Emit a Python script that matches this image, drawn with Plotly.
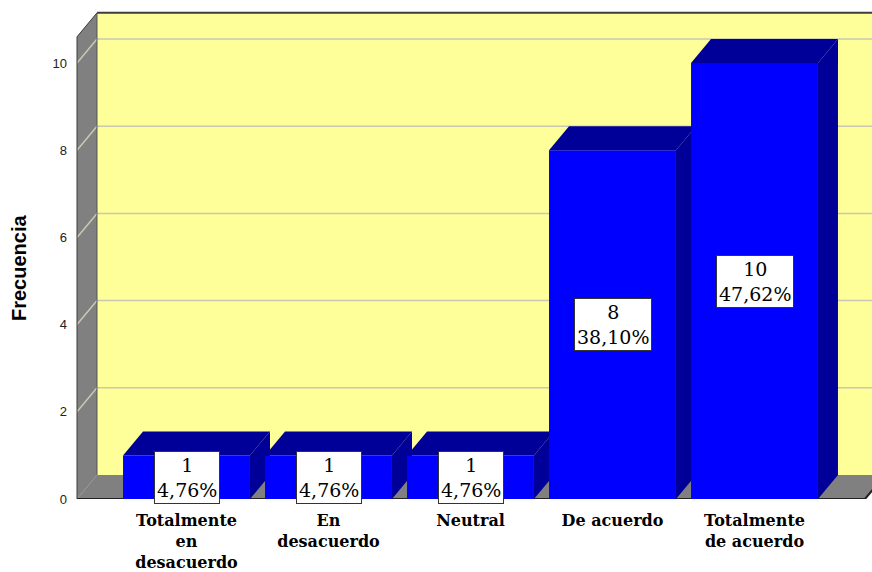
import plotly.graph_objects as go

# ---- data ----
categories = ["Totalmente<br>en<br>desacuerdo", "En<br>desacuerdo", "Neutral",
              "De acuerdo", "Totalmente<br>de acuerdo"]
frecuencia = [1, 1, 1, 8, 10]
porcentaje = [4.76, 4.76, 4.76, 38.10, 47.62]
y_ticks = [0, 2, 4, 6, 8, 10]

# ---- geometry (axis units) ----
n = len(categories)
xs = list(range(n))
W = 0.894          # bar width
DX, DY = 0.1408, 0.55   # depth offset for pseudo-3D
X0 = (77 - 186.5) / 142.0   # left wall front edge
XR = 4.778                  # floor right front edge
WALL_TOP = 10.6
XMIN = (74 - 186.5) / 142.0
XMAX = (872 - 186.5) / 142.0
YMAX = 499 / 43.6

FRONT = "#0000FF"
DARK = "#000099"
WALL = "#808080"
BACK = "#FFFF99"

fig = go.Figure()

def poly(px, py, color):
    fig.add_trace(go.Scatter(x=px + [px[0]], y=py + [py[0]], mode="lines",
                             fill="toself", fillcolor=color,
                             line=dict(width=0, color=color),
                             hoverinfo="skip", showlegend=False))

def line(px, py, color, width):
    fig.add_trace(go.Scatter(x=px, y=py, mode="lines",
                             line=dict(width=width, color=color),
                             hoverinfo="skip", showlegend=False))

# back wall
poly([X0 + DX, XMAX + 1, XMAX + 1, X0 + DX], [DY, DY, WALL_TOP + DY, WALL_TOP + DY], BACK)
# left wall
poly([X0, X0, X0 + DX, X0 + DX], [0, WALL_TOP, WALL_TOP + DY, DY], WALL)
# floor
poly([X0, XR, XR + DX, X0 + DX], [0, 0, DY, DY], WALL)

# gridlines (on side + back wall)
for t in y_ticks[1:]:
    line([X0, X0 + DX, XMAX + 1], [t, t + DY, t + DY], "#C8C8B4", 1.5)

# wall edges
line([X0 + DX, XMAX + 1], [WALL_TOP + DY, WALL_TOP + DY], "#3C3C3C", 2)
line([X0, X0, X0 + DX], [0, WALL_TOP, WALL_TOP + DY], "#3C3C3C", 1)
line([X0 + DX, X0 + DX], [DY, WALL_TOP + DY], "#555555", 1)
line([X0, XR, XR + DX], [0, 0, DY], "#222222", 2)

# bars
for x, v in zip(xs, frecuencia):
    l, r = x - W / 2, x + W / 2
    poly([l, r, r, l], [0, 0, v, v], FRONT)
    poly([l, r, r + DX, l + DX], [v, v, v + DY, v + DY], DARK)
    poly([r, r + DX, r + DX, r], [0, DY, v + DY, v], DARK)

# labels
for x, v, p in zip(xs, frecuencia, porcentaje):
    txt = f"{v}<br>{p:.2f}%".replace(".", ",")
    fig.add_annotation(x=x, y=v / 2, text=txt, showarrow=False,
                       font=dict(family="DejaVu Serif", size=19, color="black"),
                       bgcolor="white", bordercolor="#333333", borderwidth=1,
                       borderpad=2)

# y axis title
fig.add_annotation(xref="paper", yref="paper", x=(19 - 74) / 798.0, y=(499 - 268) / 499.0,
                   xanchor="center", yanchor="middle",
                   text="<b>Frecuencia</b>", textangle=-90, showarrow=False,
                   font=dict(family="Liberation Sans", size=20, color="black"))

fig.update_layout(
    width=872, height=572,
    margin=dict(l=74, r=0, t=0, b=73),
    paper_bgcolor="white", plot_bgcolor="white",
    showlegend=False,
    xaxis=dict(range=[XMIN, XMAX], tickmode="array", tickvals=xs,
               ticktext=["<b>" + c + "</b>" for c in categories],
               showgrid=False, zeroline=False, showline=False, ticks="",
               ticklabelstandoff=10,
               tickfont=dict(family="DejaVu Serif", size=16, color="black"),
               fixedrange=True),
    yaxis=dict(range=[0, YMAX], tickmode="array", tickvals=y_ticks,
               ticktext=[str(t) for t in y_ticks],
               showgrid=False, zeroline=False, showline=False, ticks="",
               ticklabelstandoff=6,
               tickfont=dict(family="Liberation Sans", size=13, color="#222222"),
               fixedrange=True),
)

fig.write_html("out.html")
